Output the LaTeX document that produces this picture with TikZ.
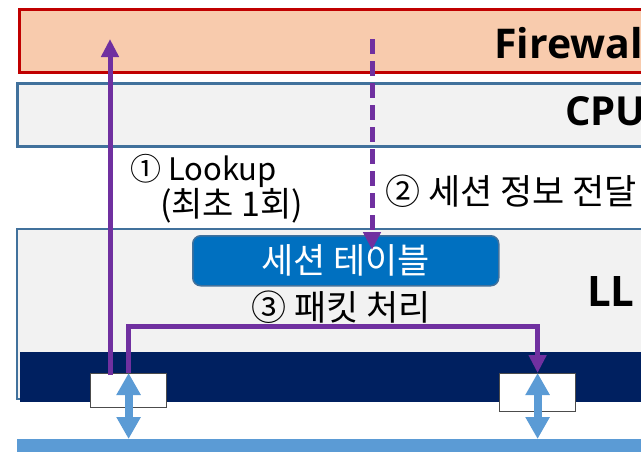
\documentclass[tikz,border=0pt]{standalone}
\usepackage{fontspec}
\setmainfont{Noto Sans CJK KR}
\newfontfamily\headfont{Open Sans}
\usetikzlibrary{calc}
\usetikzlibrary{arrows.meta}
\definecolor{fwfill}{HTML}{F8CBAD}
\definecolor{fwline}{HTML}{C00000}
\definecolor{boxfill}{HTML}{F2F2F2}
\definecolor{boxline}{HTML}{41719C}
\definecolor{tblfill}{HTML}{0070C0}
\definecolor{navy}{HTML}{002060}
\definecolor{busblue}{HTML}{5B9BD5}
\definecolor{flowpurple}{HTML}{7030A0}
\tikzset{
  layer/.style = {draw=#1, anchor=north west, minimum width=700pt, inner sep=0pt},
  port/.style = {draw={gray!60!black}, fill=white, anchor=north west, minimum width=76pt, inner sep=0pt, line width=1.2pt},
  flow/.style = {color=#1, line width=5pt, -{Triangle[width=17pt,length=18pt]}},
  link/.style = {color=#1, line width=8pt, {Triangle[width=23pt,length=22pt]}-{Triangle[width=23pt,length=22pt]}},
  note/.style = {font=\fontsize{#1}{36}\selectfont, inner sep=0pt},
  note/.default = 35,
  title/.style = {font=\headfont\fontsize{#1}{#1}\selectfont\bfseries, anchor=base west, inner sep=0pt}
}

\begin{document}
\begin{tikzpicture}[x=1pt, y=-1pt]
    \clip (0,0) rectangle (641,451);
    \fill[white] (0,0) rectangle (641,451);

    % Layers
    \node[layer={fwline}, fill=fwfill, line width=2.5pt, minimum height=63pt] (fw) at (18,8) {};
    \node[layer={boxline}, fill=boxfill, line width=2.5pt, minimum height=63pt] (cpu) at (16,82) {};
    \node[layer={boxline}, fill=boxfill, line width=2pt, minimum height=170pt] (ll) at (16,228) {};
    \node[layer={none}, fill=navy, minimum height=50pt] (band) at (20,352) {};
    \node[layer={none}, fill=busblue, minimum height=14pt] (bus) at (17,439) {};

    % Titles
    \node[title=41] (fwtitle) at (494,58) {Firewall};
    \node[title=40] (cputitle) at (565,125) {CPU};
    \node[title=42] (lltitle) at (587,306) {LL};

    % Session table
    \node[note, draw=boxline, fill=tblfill, rounded corners=8pt, line width=1.5pt, minimum width=306pt, minimum height=50pt, anchor=north west, text=white] (tbl) at (192,235) {세션 테이블};

    % Ports
    \node[port, minimum height=34pt] (port1) at (90,373) {};
    \node[port, minimum height=38pt] (port2) at (499,373) {};

    % Flows
    \coordinate (lookupTip) at (110,39);
    \coordinate (syncTail) at (372,39);
    \draw[flow={flowpurple}] ([yshift=-2pt]port1.north -| lookupTip) -- (lookupTip);
    \draw[flow={flowpurple}, dash pattern=on 15pt off 7pt] (syncTail) -- ([yshift=-15pt]tbl.north -| syncTail);
    \draw[flow={flowpurple}] (port1.north) -- ++(0,-47) -| (port2.north);

    % Links to bus
    \draw[link={busblue}] (port1.north) -- (port1.north |- bus.north);
    \draw[link={busblue}] (port2.north) -- (port2.north |- bus.north);

    % Labels
    \node[note=31, anchor=west, align=left] (lookupNote) at (130,189) {① Lookup\\\hspace{30pt}\fontsize{34}{36}\selectfont(최초 1회)};
    \node[note, anchor=west] (syncNote) at (385,191) {② 세션 정보 전달};
    \node[note] (procNote) at (341,307) {③ 패킷 처리};

\end{tikzpicture}
\end{document}
